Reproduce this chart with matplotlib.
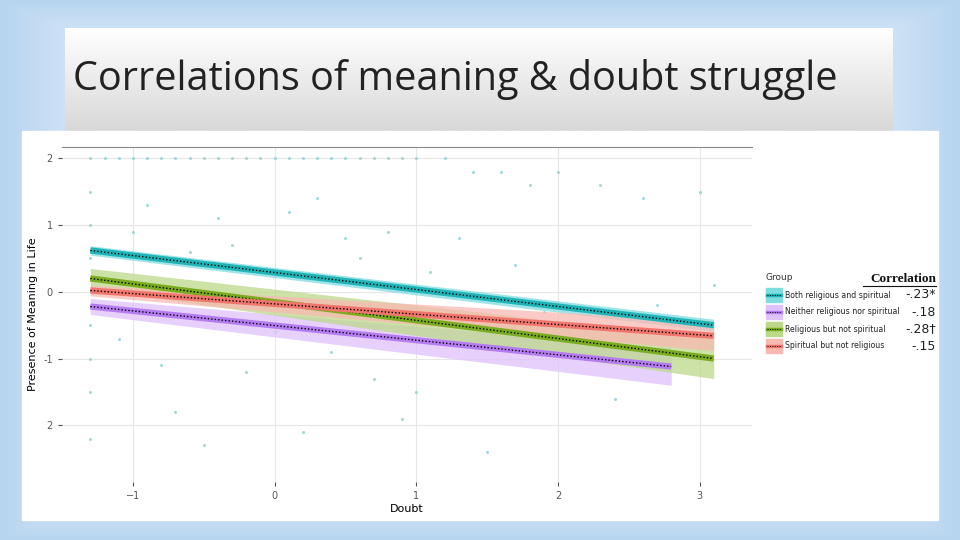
import numpy as np
import matplotlib.pyplot as plt

groups = ["Both religious and spiritual", "Neither religious nor spiritual",
          "Religious but not spiritual", "Spiritual but not religious"]
correlations = ["-.23*", "-.18", "-.28\u2020", "-.15"]
colors = ["#1fb5b8", "#b57bf0", "#7aac1f", "#f0766d"]
band_colors = ["#7fdde0", "#e0c2fb", "#bcd98a", "#f9b9b3"]
x_start = [-1.3, -1.3, -1.3, -1.3]
x_end = [3.1, 2.8, 3.1, 3.1]
y_start = [0.62, -0.22, 0.20, 0.02]
y_end = [-0.50, -1.12, -1.00, -0.66]
band_start = [0.07, 0.12, 0.15, 0.08]
band_end = [0.09, 0.28, 0.30, 0.22]

# a sample of the faint scatter points
pts_x = [-1.3, -1.3, -1.3, -1.3, -1.3, -1.3, -1.3, -1.3, -1.2, -1.1, -1.0, -0.9, -0.8,
         -0.7, -0.6, -0.5, -0.4, -0.3, -0.2, -0.1, 0.0, 0.1, 0.2, 0.3, 0.4, 0.5, 0.6,
         0.7, 0.8, 0.9, 1.0, 1.2, 1.4, 1.6, 1.8, 2.0, 2.3, 2.6, 3.0, -0.9, -0.4, 0.3,
         0.8, 1.3, -0.6, 0.1, 0.6, 1.1, 1.7, -1.1, -0.2, 0.4, 2.2, 1.0, -0.7, 0.9,
         -0.5, 0.2, 1.5, 2.4, -1.0, -0.3, 0.5, 1.2, 0.0, 0.7, -0.8, 1.9, 2.7, 3.1]
pts_y = [2.0, 1.5, 1.0, 0.5, -0.5, -1.0, -1.5, -2.2, 2.0, 2.0, 2.0, 2.0, 2.0,
         2.0, 2.0, 2.0, 2.0, 2.0, 2.0, 2.0, 2.0, 2.0, 2.0, 2.0, 2.0, 2.0, 2.0,
         2.0, 2.0, 2.0, 2.0, 2.0, 1.8, 1.8, 1.6, 1.8, 1.6, 1.4, 1.5, 1.3, 1.1, 1.4,
         0.9, 0.8, 0.6, 1.2, 0.5, 0.3, 0.4, -0.7, -1.2, -0.9, -0.8, -1.5, -1.8, -1.9,
         -2.3, -2.1, -2.4, -1.6, 0.9, 0.7, 0.8, -0.4, -0.6, -1.3, -1.1, -0.3, -0.2, 0.1]

fig = plt.figure(figsize=(9.6, 5.4), dpi=100)

# slide background: pale blue edges, white middle
bg = fig.add_axes([0, 0, 1, 1])
gx = np.linspace(-1, 1, 200)
gxx, gyy = np.meshgrid(gx, gx)
r = np.clip(np.maximum(np.abs(gxx) ** 1.5, np.abs(gyy) ** 2), 0, 1)
bg.imshow(r, cmap=plt.matplotlib.colors.LinearSegmentedColormap.from_list(
    "s", ["#ffffff", "#eef5fc", "#b8d5f0"]), extent=[0, 960, 540, 0], aspect="auto")
# title box with vertical grey gradient
grad = np.linspace(0, 1, 100).reshape(-1, 1)
bg.imshow(grad, cmap=plt.matplotlib.colors.LinearSegmentedColormap.from_list(
    "t", ["#ffffff", "#d8d8d8"]), extent=[65, 893, 131, 28], aspect="auto")
bg.add_patch(plt.Rectangle((22, 131), 916, 389, color="white"))
bg.set_xlim(0, 960)
bg.set_ylim(540, 0)
bg.axis("off")
bg.text(73, 80, "Correlations of meaning & doubt struggle", fontsize=28.5,
        family="Open Sans", color="#222222", va="center")

ax = fig.add_axes([62 / 960, 58 / 540, 690 / 960, 335 / 540])
ax.set_facecolor("white")
ax.scatter(pts_x, pts_y, s=5, color="#8fd0d3", alpha=0.8, lw=0)
for i in range(4):
    xs = np.array([x_start[i], x_end[i]])
    ys = np.array([y_start[i], y_end[i]])
    bw = np.array([band_start[i], band_end[i]])
    ax.fill_between(xs, ys - bw, ys + bw, color=band_colors[i], alpha=0.75, lw=0)
    ax.plot(xs, ys, color=colors[i], lw=4.5, solid_capstyle="butt")
    ax.plot(xs, ys, color="black", lw=1, ls=(0, (1, 1.5)))
ax.set_xlim(-1.5, 3.37)
ax.set_ylim(-2.85, 2.17)
ax.set_xticks([-1, 0, 1, 2, 3])
ax.set_yticks([2, 1, 0, -1, -2])
ax.set_yticklabels(["2", "1", "0", "-1", "2"])
ax.grid(color="#e6e6e6", lw=0.8)
ax.set_axisbelow(True)
for s in ["left", "right", "bottom"]:
    ax.spines[s].set_visible(False)
ax.spines["top"].set_color("#888888")
ax.tick_params(labelsize=7, colors="#555555", length=3)
ax.set_xlabel("Doubt", fontsize=8, labelpad=2)
ax.set_ylabel("Presence of Meaning in Life", fontsize=8, labelpad=4)

# legend drawn as text
bg.text(766, 278, "Group", fontsize=6.5, color="#333333", va="center")
bg.text(936, 279, "Correlation", fontsize=9.5, family="Liberation Serif",
        fontweight="bold", ha="right", va="center", color="#111111")
bg.plot([863, 936], [286, 286], color="#111111", lw=0.8)
for i in range(4):
    yy = 295 + i * 17
    bg.add_patch(plt.Rectangle((766, yy - 7), 16, 14, color=band_colors[i]))
    bg.plot([767, 781], [yy, yy], color=colors[i], lw=2.5)
    bg.plot([767, 781], [yy, yy], color="black", lw=0.7, ls=(0, (1, 1.5)))
    bg.text(785, yy, groups[i], fontsize=5.6, color="#222222", va="center")
    bg.text(936, yy, correlations[i], fontsize=9, ha="right", va="center",
            color="#222222")

fig.savefig("out.png", dpi=100)
